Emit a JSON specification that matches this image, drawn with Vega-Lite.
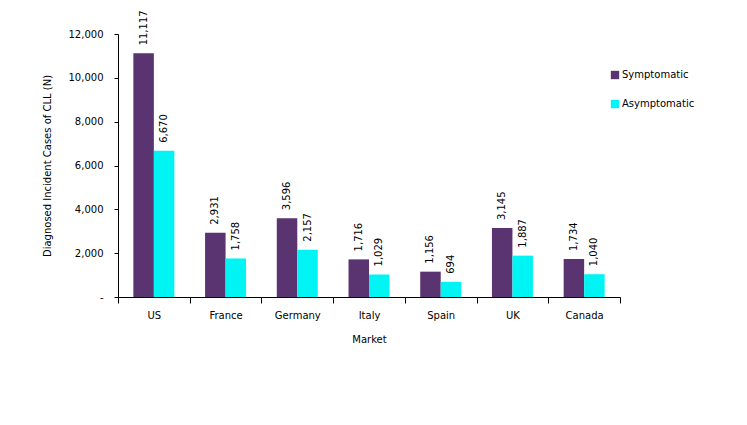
{
  "$schema": "https://vega.github.io/schema/vega-lite/v6.json",
  "autosize": "none",
  "width": 502,
  "height": 263,
  "padding": {"left": 118, "top": 34, "right": 127, "bottom": 128},
  "background": "white",
  "config": {
    "font": "DejaVu Sans",
    "view": {"stroke": null},
    "axis": {"labelFont": "DejaVu Sans", "titleFont": "DejaVu Sans", "labelColor": "#000", "titleColor": "#000", "domainColor": "#000", "tickColor": "#000", "titleFontWeight": "normal", "labelFontSize": 10, "titleFontSize": 10}
  },
  "data": {
    "values": [
      {"market": "US", "type": "Symptomatic", "value": 11117},
      {"market": "US", "type": "Asymptomatic", "value": 6670},
      {"market": "France", "type": "Symptomatic", "value": 2931},
      {"market": "France", "type": "Asymptomatic", "value": 1758},
      {"market": "Germany", "type": "Symptomatic", "value": 3596},
      {"market": "Germany", "type": "Asymptomatic", "value": 2157},
      {"market": "Italy", "type": "Symptomatic", "value": 1716},
      {"market": "Italy", "type": "Asymptomatic", "value": 1029},
      {"market": "Spain", "type": "Symptomatic", "value": 1156},
      {"market": "Spain", "type": "Asymptomatic", "value": 694},
      {"market": "UK", "type": "Symptomatic", "value": 3145},
      {"market": "UK", "type": "Asymptomatic", "value": 1887},
      {"market": "Canada", "type": "Symptomatic", "value": 1734},
      {"market": "Canada", "type": "Asymptomatic", "value": 1040}
    ]
  },
  "encoding": {
    "x": {
      "field": "market", "type": "nominal", "sort": null,
      "scale": {"paddingInner": 0, "paddingOuter": 0},
      "axis": {"title": "Market", "labelAngle": 0, "tickBand": "extent", "tickSize": 6, "labelPadding": 7, "titlePadding": 14, "grid": false}
    },
    "xOffset": {"field": "type", "type": "nominal", "sort": ["Symptomatic", "Asymptomatic"], "scale": {"paddingInner": 0, "paddingOuter": 0.75}},
    "y": {
      "field": "value", "type": "quantitative",
      "scale": {"domain": [0, 12000]},
      "axis": {"title": "Diagnosed Incident Cases of CLL (N)", "values": [0, 2000, 4000, 6000, 8000, 10000, 12000], "labelExpr": "datum.value == 0 ? '-' : format(datum.value, ',')", "grid": false, "tickSize": 4, "labelPadding": 11, "titlePadding": 16}
    }
  },
  "layer": [
    {
      "mark": {"type": "bar"},
      "encoding": {
        "color": {
          "field": "type", "type": "nominal", "sort": ["Symptomatic", "Asymptomatic"],
          "scale": {"domain": ["Symptomatic", "Asymptomatic"], "range": ["#5A3371", "#00F4F4"]},
          "legend": {"title": null, "orient": "none", "legendX": 492, "legendY": 36, "symbolType": "square", "symbolSize": 70, "symbolStrokeWidth": 0, "labelFontSize": 10, "labelFont": "DejaVu Sans", "rowPadding": 19, "labelOffset": 2}
        }
      }
    },
    {
      "mark": {"type": "text", "angle": 270, "align": "left", "baseline": "middle", "dx": 8, "fontSize": 10, "font": "DejaVu Sans"},
      "encoding": {
        "text": {"field": "value", "type": "quantitative", "format": ","}
      }
    }
  ]
}
